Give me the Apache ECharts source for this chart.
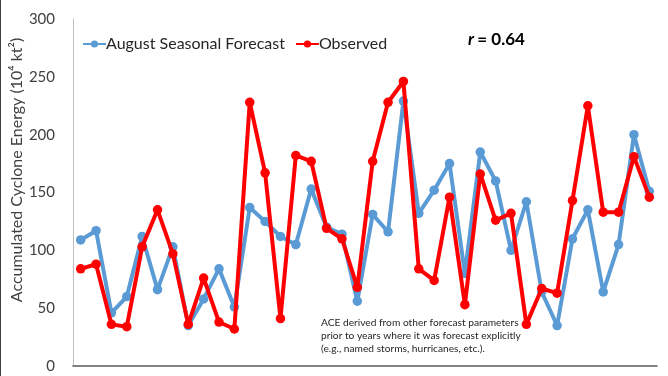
<!DOCTYPE html>
<html>
<head>
<meta charset="utf-8">
<script src="https://cdn.jsdelivr.net/npm/echarts@6/dist/echarts.min.js"></script>
<style>
html,body{margin:0;padding:0;background:#fff;}
#c{width:668px;height:376px;}
</style>
</head>
<body>
<div id="c"></div>
<script>
var years = [1984,1985,1986,1987,1988,1989,1990,1991,1992,1993,1994,1995,1996,1997,1998,1999,2000,2001,2002,2003,2004,2005,2006,2007,2008,2009,2010,2011,2012,2013,2014,2015,2016,2017,2018,2019,2020,2021];
var forecast = [109,117,46,60,112,66,103,35,58,84,51,137,125,112,105,153,120,114,56,131,116,229,132,152,175,80,185,160,100,142,64,35,110,135,64,105,200,151];
var observed = [84,88,36,34,103,135,97,36,76,38,32,228,167,41,182,177,119,110,68,177,228,246,84,74,146,53,166,126,132,36,67,63,143,225,133,133,181,146];
var yTicks = {min:0, max:300, interval:50};
var FONT = 'Lato';

var chart = echarts.init(document.getElementById('c'), null, {renderer:'canvas'});
chart.setOption({
  animation:false,
  backgroundColor:'#ffffff',
  grid:{left:73, right:11, top:19, bottom:10, containLabel:false},
  legend:{
    left:77, top:31, itemWidth:23, itemHeight:9, itemGap:10,
    textStyle:{fontFamily:FONT, fontSize:16, color:'#262626', padding:[0,0,0,-5]},
    data:['August Seasonal Forecast','Observed']
  },
  xAxis:{
    type:'category', data:years, boundaryGap:true,
    axisLine:{show:true, lineStyle:{color:'#595959', width:1.5}},
    axisTick:{show:false}, axisLabel:{show:false}, splitLine:{show:false}
  },
  yAxis:{
    type:'value', min:yTicks.min, max:yTicks.max, interval:yTicks.interval,
    axisLine:{show:true, lineStyle:{color:'#BFBFBF', width:1}},
    axisTick:{show:false}, splitLine:{show:false},
    axisLabel:{fontFamily:FONT, fontSize:15, color:'#404040', margin:18}
  },
  series:[
    {name:'August Seasonal Forecast', type:'line', data:forecast, color:'#5B9BD5',
     lineStyle:{width:4, color:'#5B9BD5'}, symbol:'circle', symbolSize:9.5,
     itemStyle:{color:'#5B9BD5'}, z:2},
    {name:'Observed', type:'line', data:observed, color:'#FF0000',
     lineStyle:{width:4, color:'#FF0000'}, symbol:'circle', symbolSize:9.5,
     itemStyle:{color:'#FF0000'}, z:3}
  ],
  graphic:[
    {type:'line', shape:{x1:0.5,y1:0,x2:0.5,y2:376}, style:{stroke:'#404040', lineWidth:1}},
    {type:'text', x:17, y:170, rotation:Math.PI/2, style:{
      text:'Accumulated Cyclone Energy (10\u2074 kt\u00B2)', fontFamily:FONT, fontSize:16,
      fill:'#404040', align:'center', verticalAlign:'middle'}},
    {type:'text', x:468, y:40, style:{
      text:'{i|r} {b|= 0.64}', verticalAlign:'middle', align:'left',
      rich:{i:{fontFamily:FONT, fontSize:17, fontWeight:'bold', fontStyle:'italic', fill:'#000'},
            b:{fontFamily:FONT, fontSize:17, fontWeight:'bold', fill:'#000'}}}},
    {type:'text', x:321, y:316, style:{
      text:'ACE derived from other forecast parameters\nprior to years where it was forecast explicitly\n(e.g., named storms, hurricanes, etc.).',
      fontFamily:FONT, fontSize:10.2, lineHeight:13, fill:'#262626', align:'left', verticalAlign:'top'}}
  ]
});
</script>
</body>
</html>
